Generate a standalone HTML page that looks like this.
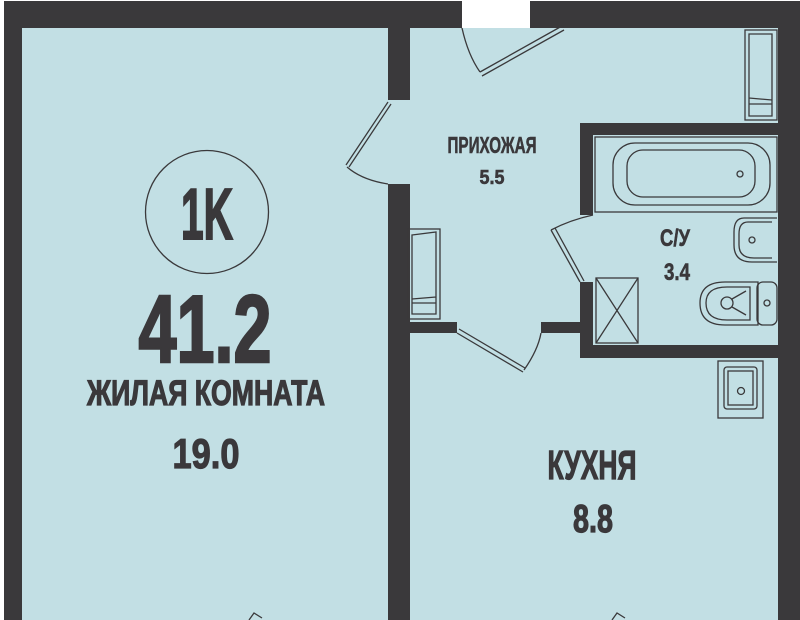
<!DOCTYPE html>
<html><head><meta charset="utf-8"><style>
html,body{margin:0;padding:0;background:#fff;width:800px;height:620px;overflow:hidden}
svg{display:block}
text{font-family:"Liberation Sans Narrow","Liberation Sans","DejaVu Sans",sans-serif;font-weight:bold;fill:#3a383b;stroke:#3a383b;stroke-width:1.2}
</style></head><body>
<svg width="800" height="620" viewBox="0 0 800 620" xmlns="http://www.w3.org/2000/svg">
<rect x="0" y="0" width="800" height="620" fill="#fff"/>
<rect x="22" y="28" width="756" height="592" fill="#c2dfe4"/>
<g fill="#3a393b">
<rect x="4" y="1" width="458" height="27"/>
<rect x="530" y="1" width="270" height="27"/>
<rect x="4" y="1" width="18" height="619"/>
<rect x="778" y="1" width="22" height="619"/>
<rect x="388" y="28" width="22" height="72"/>
<rect x="388" y="184" width="22" height="436"/>
<rect x="410" y="322" width="47" height="11"/>
<rect x="541" y="322" width="40" height="11"/>
<rect x="580" y="123" width="198" height="12"/>
<rect x="580" y="123" width="13" height="92"/>
<rect x="580" y="282" width="13" height="76"/>
<rect x="580" y="345" width="198" height="13"/>
</g>
<g fill="none" stroke="#3a393b" stroke-width="1.3">
<path d="M462 28 Q468 55 480 72"/>
<path d="M480 72 L562 26 M482 76 L564 30"/>
<path d="M388 102 L346 165 M391 104 L349 167"/>
<path d="M347 167 Q362 180 388 184"/>
<path d="M457 333 L523 372 M459 329 L525 368"/>
<path d="M524 370 Q538 350 541 333"/>
<path d="M593 215 Q570 220 551 230"/>
<path d="M551 230 L580 282 M555 228 L584 281"/>
<rect x="745" y="30" width="32" height="90"/>
<path d="M749 34 L772 34 L772 116 L749 116 Z M749 98 L772 100 M749 104 L772 104"/>
<rect x="408" y="229" width="32" height="90"/>
<path d="M412 235 L436 232 L436 314 L412 314 Z M412 299 L436 297 M412 303 L436 303"/>
<rect x="595" y="137" width="182" height="75"/>
<rect x="613" y="143" width="157" height="62" rx="22"/>
<rect x="627" y="150" width="128" height="47" rx="16"/>
<circle cx="740" cy="174" r="3"/>
<path d="M777 218 L744 218 Q734 218 734 232 L734 245 Q734 262 752 262 L777 262"/>
<path d="M772 222 L748 222 Q739 222 739 234 L739 245 Q739 258 754 258 L772 258"/>
<circle cx="752" cy="240" r="3"/>
<path d="M758 282 L725 282 Q700 282 700 303 Q700 325 725 325 L758 325 Z"/>
<path d="M750 287 L727 287 Q706 287 706 303 Q706 320 727 320 L750 320 Z"/>
<rect x="757" y="282" width="20" height="43" rx="6"/>
<circle cx="767" cy="303" r="3"/>
<circle cx="727" cy="303" r="6"/>
<path d="M732 299 L746 291 M732 307 L746 315"/>
<rect x="596" y="278" width="42" height="65"/>
<path d="M596 278 L638 343 M638 278 L596 343"/>
<rect x="718" y="361" width="45" height="57"/>
<rect x="724" y="367" width="33" height="42" rx="3"/>
<rect x="728" y="371" width="25" height="34"/>
<circle cx="741" cy="391" r="3.5"/>
<circle cx="207" cy="212" r="61.5" stroke-width="1.3"/>
<path d="M249 620 L254 613 L262 618" />
<path d="M612 620 L617 613 L625 618" />
</g>
<text x="207" y="239" font-size="72" text-anchor="middle" textLength="52" lengthAdjust="spacingAndGlyphs" style="stroke-width:2">1K</text>
<text x="205" y="362" font-size="96" text-anchor="middle" textLength="133" lengthAdjust="spacingAndGlyphs" style="stroke-width:2.5">41.2</text>
<text x="206" y="405" font-size="35" text-anchor="middle" textLength="238" lengthAdjust="spacingAndGlyphs">ЖИЛАЯ КОМНАТА</text>
<text x="206" y="468" font-size="42" text-anchor="middle" textLength="67" lengthAdjust="spacingAndGlyphs">19.0</text>
<text x="592" y="479" font-size="41" text-anchor="middle" textLength="89" lengthAdjust="spacingAndGlyphs">КУХНЯ</text>
<text x="593" y="532" font-size="39" text-anchor="middle" textLength="40" lengthAdjust="spacingAndGlyphs">8.8</text>
<text x="492" y="153" font-size="23" text-anchor="middle" textLength="89" lengthAdjust="spacingAndGlyphs" style="stroke-width:0.6">ПРИХОЖАЯ</text>
<text x="492" y="184" font-size="20" text-anchor="middle" textLength="25" lengthAdjust="spacingAndGlyphs" style="stroke-width:0.6">5.5</text>
<text x="675" y="246" font-size="24" text-anchor="middle" textLength="30" lengthAdjust="spacingAndGlyphs" style="stroke-width:0.6">С/У</text>
<text x="677" y="280" font-size="24" text-anchor="middle" textLength="26" lengthAdjust="spacingAndGlyphs" style="stroke-width:0.6">3.4</text>
</svg>
</body></html>
